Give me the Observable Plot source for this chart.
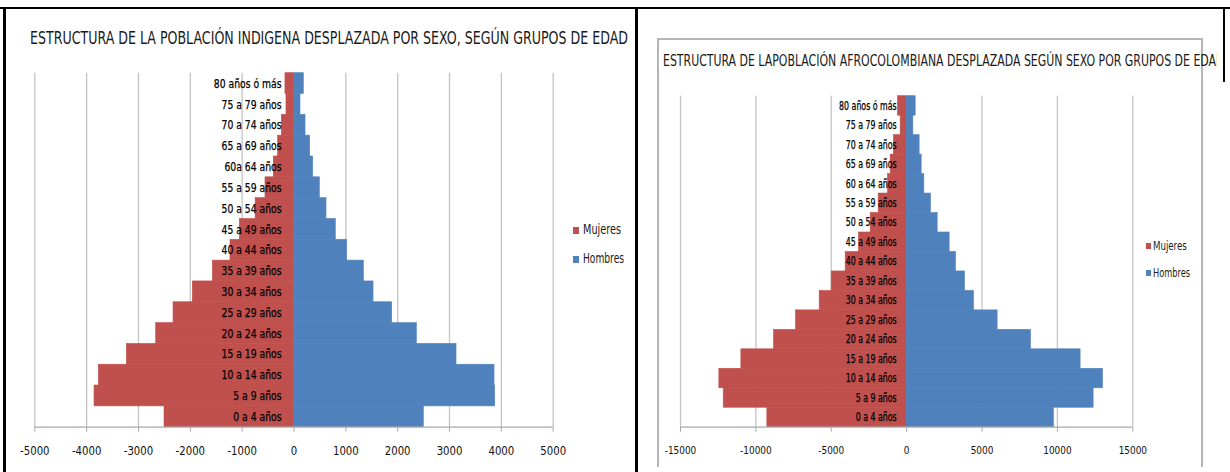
<!DOCTYPE html>
<html><head><meta charset="utf-8">
<script src="https://cdn.jsdelivr.net/npm/d3@7"></script>
<script src="https://cdn.jsdelivr.net/npm/@observablehq/plot@0.6"></script>
<style>
html,body{margin:0;padding:0;background:#fff;}
#root{position:relative;width:1230px;height:472px;overflow:hidden;background:#fff;font-family:"Liberation Sans Narrow","DejaVu Sans Condensed","Liberation Sans",sans-serif;color:#1a1a1a;}
.box{position:absolute;}
.txt{position:absolute;white-space:nowrap;line-height:1;transform-origin:0 50%;}
.plot{position:absolute;top:0;}
</style></head><body><div id="root"></div>
<script>
// ---- data (youngest to oldest) ----
const agesIndigena = ["0 a 4 años","5 a 9 años","10 a 14 años","15 a 19 años","20 a 24 años","25 a 29 años","30 a 34 años","35 a 39 años","40 a 44 años","45 a 49 años","50 a 54 años","55 a 59 años","60a 64 años","65 a 69 años","70 a 74 años","75 a 79 años","80 años ó más"];
const mujeresIndigena = [2498,3848,3765,3225,2658,2324,1952,1566,1225,1045,740,550,390,305,235,145,165];
const hombresIndigena = [2504,3881,3868,3135,2369,1894,1534,1347,1026,806,627,498,370,312,222,125,189];
const ticksIndigena = [-5000,-4000,-3000,-2000,-1000,0,1000,2000,3000,4000,5000];

const agesAfro = ["0 a 4 años","5 a 9 años","10 a 14 años","15 a 19 años","20 a 24 años","25 a 29 años","30 a 34 años","35 a 39 años","40 a 44 años","45 a 49 años","50 a 54 años","55 a 59 años","60 a 64 años","65 a 69 años","70 a 74 años","75 a 79 años","80 años ó más"];
const mujeresAfro = [9240,12135,12423,10962,8798,7340,5769,4973,4045,3161,2387,1857,1238,1061,842,398,577];
const hombresAfro = [9769,12401,13020,11538,8244,6034,4463,3868,3271,2851,2056,1614,1172,995,860,444,597];
const ticksAfro = [-15000,-10000,-5000,0,5000,10000,15000];

const titleIndigena = "ESTRUCTURA DE LA POBLACIÓN INDIGENA DESPLAZADA POR SEXO, SEGÚN GRUPOS DE EDAD";
const titleAfro = "ESTRUCTURA DE LAPOBLACIÓN AFROCOLOMBIANA DESPLAZADA SEGÚN SEXO POR GRUPOS DE EDAD";
const legendLabels = ["Mujeres","Hombres"];
const colors = ["#C0504D","#4F81BD"];

const FONT = '"Liberation Sans Narrow","DejaVu Sans Condensed","Liberation Sans",sans-serif';
const root = document.getElementById("root");

function box(l,t,w,h,style){const d=document.createElement("div");d.className="box";Object.assign(d.style,{left:l+"px",top:t+"px",width:w+"px",height:h+"px"},style||{});root.appendChild(d);return d;}
function text(str,l,cy,size,parent){const d=document.createElement("div");d.className="txt";d.textContent=str;d.style.left=l+"px";d.style.top=(cy-0.49*size)+"px";d.style.fontSize=size+"px";(parent||root).appendChild(d);return d;}
function fitWidth(el,w){el.style.transform="scaleX("+(w/el.getBoundingClientRect().width)+")";}

function pyramid(o){
  const rows = o.labels.map((age,i)=>({age, m:o.mujeres[i], h:o.hombres[i]}));
  const order = o.labels.slice().reverse();
  const bw = (o.height-o.marginTop-o.marginBottom)/o.labels.length;
  return Plot.plot({
    width:o.width, height:o.height,
    marginLeft:o.marginLeft, marginRight:o.marginRight, marginTop:o.marginTop, marginBottom:o.marginBottom,
    style:{background:"transparent", fontFamily:FONT, fontSize:o.tickFont+"px", color:"#1a1a1a", overflow:"visible"},
    x:{domain:o.domain, label:null},
    y:{domain:order, padding:0, round:false, axis:null},
    marks:[
      Plot.gridX(o.ticks,{stroke:"#c4c4c4", strokeOpacity:1, strokeWidth:1.3}),
      Plot.barX(rows,{y:"age", x1:0, x2:d=>-d.m, fill:colors[0], stroke:colors[0], strokeWidth:0.6}),
      Plot.barX(rows,{y:"age", x1:0, x2:"h", fill:colors[1], stroke:colors[1], strokeWidth:0.6}),
      Plot.ruleY([order[order.length-1]],{y:d=>d, x1:o.domain[0], x2:o.domain[1], dy:bw/2, stroke:"#a8a8a8", strokeWidth:1.3}),
      Plot.axisX(o.ticks,{tickSize:5, tickPadding:o.tickPadding, stroke:"#a8a8a8", fill:"#111", tickFormat:d=>String(d), fontSize:o.tickFont, label:null}),
      Plot.text(rows,{x:()=>0, y:"age", text:"age", textAnchor:"end", dx:o.labelDx, fontSize:o.labelFont, fill:"#000", stroke:"#000", strokeWidth:0.25})
    ]
  });
}
// squeeze SVG texts horizontally (the original uses a condensed Calibri-like face)
function condense(svg, kLabel, kTick){
  svg.querySelectorAll("text").forEach(t=>{
    const k = /año/.test(t.textContent) ? kLabel : kTick;
    const w = t.getComputedTextLength();
    if (w > 0) { t.setAttribute("textLength", (w*k).toFixed(2)); t.setAttribute("lengthAdjust","spacingAndGlyphs"); }
  });
}

// borders
box(0,7,1230,2,{background:"#000"});
box(3,7,3,465,{background:"#000"});
box(635,7,2.5,465,{background:"#000"});
box(1223,7,2,75,{background:"#000"});
// right chart frame
box(657,38,546,429,{borderTop:"2px solid #b5b5b5",borderLeft:"2px solid #b5b5b5",borderRight:"2px solid #b5b5b5",boxSizing:"border-box"});

// left plot
const p1 = pyramid({labels:agesIndigena, mujeres:mujeresIndigena, hombres:hombresIndigena, ticks:ticksIndigena, domain:[-5000,5000],
  width:636, height:472, marginLeft:34.3, marginRight:83.3, marginTop:72.7, marginBottom:45.3, tickFont:12.5, tickPadding:14.4, labelFont:13, labelDx:-12.5});
p1.classList.add("plot"); p1.style.left="0px"; root.appendChild(p1);
condense(p1, 0.79, 0.9);

// right plot
const p2 = pyramid({labels:agesAfro, mujeres:mujeresAfro, hombres:hombresAfro, ticks:ticksAfro, domain:[-15000,15000],
  width:590, height:472, marginLeft:40, marginRight:97.7, marginTop:95.7, marginBottom:45.3, tickFont:11, tickPadding:14, labelFont:11.5, labelDx:-10});
p2.classList.add("plot"); p2.style.left="640px"; root.appendChild(p2);
condense(p2, 0.76, 0.9);

// titles
const t1 = text(titleIndigena,30,37.5,18);
fitWidth(t1,598);

const clip = box(0,0,1217,472,{overflow:"hidden"});
const t2 = text(titleAfro,663,60.5,16,clip);
const probe = text(titleAfro.slice(0,-1),0,-100,16,clip);
const s2 = (1216-663)/probe.getBoundingClientRect().width;
probe.remove();
t2.style.transform = "scaleX(" + s2 + ")";

// legends
box(573,226.5,6,7,{background:colors[0]});
fitWidth(text(legendLabels[0],583,230,13.5),38);
box(573,255.5,6,7,{background:colors[1]});
fitWidth(text(legendLabels[1],583,259,13.5),41);

box(1145.7,242.5,5,6.5,{background:colors[0]});
fitWidth(text(legendLabels[0],1153,246,12),33.7);
box(1145.7,269.8,5,6.5,{background:colors[1]});
fitWidth(text(legendLabels[1],1153,273.3,12),37);
</script></body></html>
